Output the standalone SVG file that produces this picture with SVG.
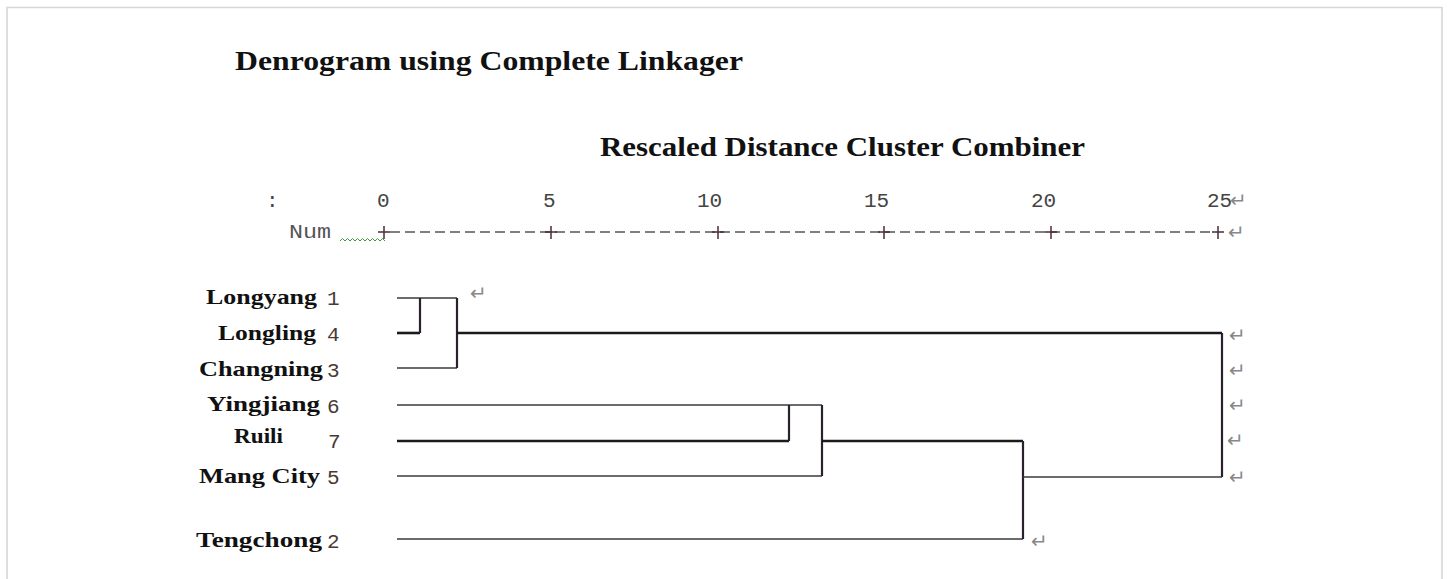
<svg xmlns="http://www.w3.org/2000/svg" width="1449" height="579" viewBox="0 0 1449 579">
<style>
.title{font-family:"Liberation Serif","Times New Roman",serif;font-weight:bold;fill:#111}
.lbl{font-family:"Liberation Serif","Times New Roman",serif;font-weight:bold;font-size:22px;fill:#111}
.num{font-family:"Liberation Mono","Courier New",monospace;font-size:21px;fill:#4a3a36}
.ax{font-family:"Liberation Mono","Courier New",monospace;font-size:21px;fill:#444}
.ret{font-family:"DejaVu Sans",sans-serif;font-size:20px;fill:#888}
.thin{stroke:#3a3a3a;stroke-width:1.6;fill:none}
.thick{stroke:#1a1a1a;stroke-width:2.6;fill:none}
.vert{stroke:#2a2030;stroke-width:2.2;fill:none}
.tick{stroke:#4a2a3a;stroke-width:1.5}
</style>
<rect width="1449" height="579" fill="#fff"/>
<path d="M7 590 V7.5 H1442 V590" fill="none" stroke="#d6d6d6" stroke-width="1.6"/>

<g id="title">
<text class="title" x="235" y="70" font-size="28" textLength="508" lengthAdjust="spacingAndGlyphs">Denrogram using Complete Linkager</text>
</g>
<g id="subtitle">
<text class="title" x="600" y="156" font-size="27" textLength="485" lengthAdjust="spacingAndGlyphs">Rescaled Distance Cluster Combiner</text>
</g>

<g id="axis">
<text class="ax" x="266" y="207">:</text>
<text class="ax" x="377" y="207">0</text>
<text class="ax" x="543" y="207">5</text>
<text class="ax" x="697" y="207">10</text>
<text class="ax" x="864" y="207">15</text>
<text class="ax" x="1031" y="207">20</text>
<text class="ax" x="1207" y="207">25</text>
<text class="ret" x="1230" y="207">↵</text>
<text class="num" x="289" y="238" style="fill:#555" textLength="42" lengthAdjust="spacingAndGlyphs">Num</text>
<path d="M340 241 l2.5 -2.5 l2.5 2.5 l2.5 -2.5 l2.5 2.5 l2.5 -2.5 l2.5 2.5 l2.5 -2.5 l2.5 2.5 l2.5 -2.5 l2.5 2.5 l2.5 -2.5 l2.5 2.5 l2.5 -2.5 l2.5 2.5 l2.5 -2.5 l2.5 2.5 l2.5 -2.5 l2.5 2.5" fill="none" stroke="#3a9a3a" stroke-width="1"/>
<line x1="390" y1="232" x2="1214" y2="232" stroke="#555" stroke-width="1.4" stroke-dasharray="10 5"/>
<g class="tick">
<line x1="384" y1="226" x2="384" y2="239"/><line x1="378" y1="232" x2="390" y2="232"/>
<line x1="551" y1="226" x2="551" y2="239"/><line x1="545" y1="232" x2="557" y2="232"/>
<line x1="718" y1="226" x2="718" y2="239"/><line x1="712" y1="232" x2="724" y2="232"/>
<line x1="884" y1="226" x2="884" y2="239"/><line x1="878" y1="232" x2="890" y2="232"/>
<line x1="1051" y1="226" x2="1051" y2="239"/><line x1="1045" y1="232" x2="1057" y2="232"/>
<line x1="1218" y1="226" x2="1218" y2="239"/><line x1="1212" y1="232" x2="1224" y2="232"/>
</g>
<text class="ret" x="1228" y="239">↵</text>
</g>

<g id="node-longyang"><text class="lbl" x="206" y="304" textLength="111" lengthAdjust="spacingAndGlyphs">Longyang</text><text class="num" x="327" y="305">1</text></g>
<g id="node-longling"><text class="lbl" x="218" y="340" textLength="98" lengthAdjust="spacingAndGlyphs">Longling</text><text class="num" x="327" y="341">4</text></g>
<g id="node-changning"><text class="lbl" x="199" y="376" textLength="124" lengthAdjust="spacingAndGlyphs">Changning</text><text class="num" x="327" y="377">3</text></g>
<g id="node-yingjiang"><text class="lbl" x="207" y="411" textLength="113" lengthAdjust="spacingAndGlyphs">Yingjiang</text><text class="num" x="327" y="413">6</text></g>
<g id="node-ruili"><text class="lbl" x="234" y="443" textLength="49" lengthAdjust="spacingAndGlyphs">Ruili</text><text class="num" x="328" y="448">7</text></g>
<g id="node-mangcity"><text class="lbl" x="199" y="483" textLength="121" lengthAdjust="spacingAndGlyphs">Mang City</text><text class="num" x="327" y="484">5</text></g>
<g id="node-tengchong"><text class="lbl" x="196" y="547" textLength="126" lengthAdjust="spacingAndGlyphs">Tengchong</text><text class="num" x="327" y="548">2</text></g>

<g id="connectors">
<path class="thin" d="M397 298 H457"/>
<path class="thick" d="M397 333 H420"/>
<path class="vert" d="M420 298 V333"/>
<path class="thin" d="M397 368 H457"/>
<path class="vert" d="M457 298 V368"/>
<path class="thick" d="M457 333 H1222"/>

<path class="thin" d="M397 405 H822"/>
<path class="thick" d="M397 441 H789"/>
<path class="vert" d="M789 405 V441"/>
<path class="thin" d="M397 476 H822"/>
<path class="vert" d="M822 405 V476"/>
<path class="thick" d="M822 441 H1023"/>
<path class="thin" d="M397 539 H1023"/>
<path class="vert" d="M1023 441 V539"/>
<path class="thin" d="M1023 477 H1222"/>
<path class="vert" d="M1222 333 V477"/>
</g>

<g id="returns">
<text class="ret" x="470" y="300">↵</text>
<text class="ret" x="1229" y="342">↵</text>
<text class="ret" x="1229" y="377">↵</text>
<text class="ret" x="1229" y="412">↵</text>
<text class="ret" x="1227" y="447">↵</text>
<text class="ret" x="1229" y="484">↵</text>
<text class="ret" x="1031" y="548">↵</text>
</g>
</svg>
